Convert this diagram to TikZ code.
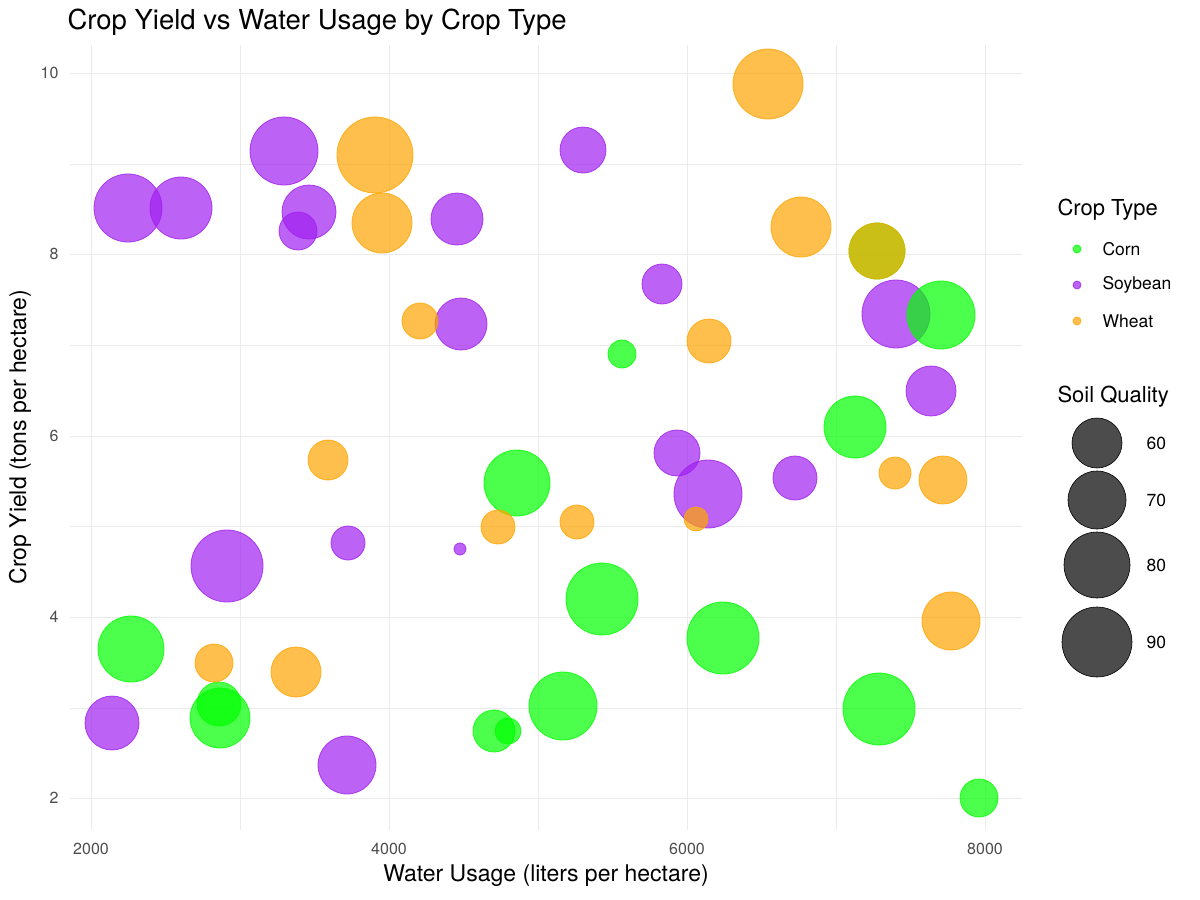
\documentclass[tikz,border=0pt]{standalone}
\usepackage{fontspec}
\setmainfont{TeX Gyre Heros}
\definecolor{corn}{HTML}{00FF00}
\definecolor{soy}{HTML}{A020F0}
\definecolor{wheat}{HTML}{FFA500}
\definecolor{tick}{HTML}{4D4D4D}
\definecolor{grid}{HTML}{EBEBEB}
\begin{document}
\begin{tikzpicture}[x=1pt,y=-1pt,
  dot/.style={fill=#1,draw=#1,fill opacity=0.7,draw opacity=0.8,line width=0.8pt},
  ticklab/.style={text=tick,font=\fontsize{16}{18}\selectfont},
  major/.style={draw=grid,line width=0.9pt},
  minor/.style={draw=grid,line width=0.5pt}]
\useasboundingbox[fill=white] (0,0) rectangle (1200,900);
% grid
\foreach \x in {240,538,836} \draw[minor] (\x,45) -- (\x,830);
\foreach \y in {164,345,526,708} \draw[minor] (70,\y) -- (1022,\y);
\foreach \x in {91,389,687,985} \draw[major] (\x,45) -- (\x,830);
\foreach \y in {73,254,436,617,798} \draw[major] (70,\y) -- (1022,\y);
% tick labels
\foreach \x/\l in {91/2000,389/4000,687/6000,985/8000}
  \node[ticklab] at (\x,849) {\l};
\foreach \y/\l in {73/10,254/8,436/6,617/4,798/2}
  \node[ticklab,anchor=east] at (62,\y) {\l};
% axis titles
\node[font=\fontsize{23}{25}\selectfont] at (546,876) {Water Usage (liters per hectare)};
\node[font=\fontsize{23}{25}\selectfont,rotate=90] at (20,437) {Crop Yield (tons per hectare)};
\node[font=\fontsize{27.5}{30}\selectfont,anchor=west] at (64,22) {Crop Yield vs Water Usage by Crop Type};
% soybean
\foreach \x/\y/\r in {128/208/34,181/208/31,284/151/34,309/212/27,298/231/19,457/219/26,461/324/26,583/150/23,662/284/20,896/314/34,931/391/25,677/453/23,708/494/34,795/478/22,227/566/36,348/543/17,460/549/6,112/723/27,347/765/29}
  \fill[dot=soy] (\x,\y) circle (\r);
% corn
\foreach \x/\y/\r in {877/251/28,941/315/34,622/354/14,855/427/31,517/483/33,602/599/36,723/638/36,131/649/33,219/704/22,220/718/30,494/731/21,508/731/13,563/706/34,879/709/36,979/798/19}
  \fill[dot=corn] (\x,\y) circle (\r);
% wheat
\foreach \x/\y/\r in {768/84/35,375/155/38,382/223/30,801/227/30,877/251/28,420/321/18,709/341/22,328/460/20,895/473/16,943/480/24,498/527/17,577/522/17,696/519/12,214/663/19,296/672/25,951/621/29}
  \fill[dot=wheat] (\x,\y) circle (\r);
% legend
\node[anchor=west,font=\fontsize{22}{24}\selectfont] at (1054,210) {Crop Type};
\foreach \y/\c/\l in {249/corn/Corn,285/soy/Soybean,321/wheat/Wheat}{
  \fill[dot=\c] (1077,\y) circle (4);
  \node[anchor=west,font=\fontsize{17.5}{20}\selectfont] at (1099,\y) {\l};}
\node[anchor=west,font=\fontsize{22}{24}\selectfont] at (1054,397) {Soil Quality};
\foreach \y/\r/\l in {443/25/60,500/29/70,565/33/80,642/35/90}{
  \fill[fill=black,fill opacity=0.7] (1097,\y) circle (\r);
  \draw[black,line width=0.6pt] (1097,\y) circle (\r);
  \node[anchor=west,font=\fontsize{17.5}{20}\selectfont] at (1143,\y) {\l};}
\end{tikzpicture}
\end{document}
